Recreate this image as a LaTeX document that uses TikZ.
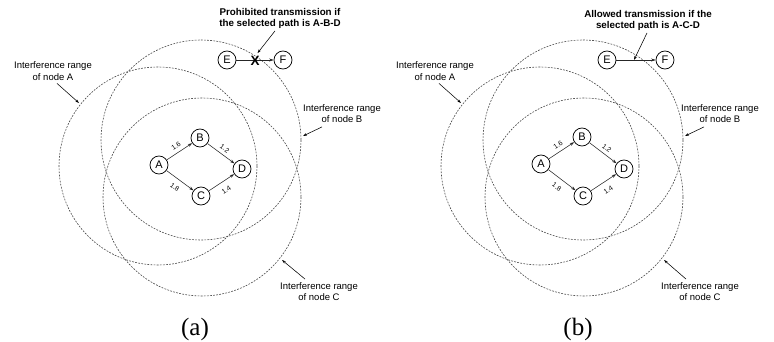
\documentclass[tikz,border=0pt]{standalone}
\usepackage{fontspec}
\setmainfont{Liberation Serif}
\setsansfont{Liberation Sans}
\usetikzlibrary{arrows.meta}
\begin{document}
\begin{tikzpicture}[x=1pt,y=-1pt,
  rangecirc/.style={draw=black!72, dash pattern=on 1.8pt off 1.3pt, line width=0.6pt},
  netnode/.style={circle, draw, line width=0.75pt, minimum size=18pt, inner sep=0pt, fill=white, font=\sffamily\fontsize{11}{12}\selectfont},
  link/.style={-{Stealth[length=4.5pt,width=3pt]}, line width=0.55pt, draw=black!85},
  wlabel/.style={font=\sffamily\fontsize{6.8}{7}\selectfont, sloped, inner sep=0.5pt},
  rangelabel/.style={font=\sffamily\fontsize{9.5}{11.5}\selectfont, align=center, inner sep=1pt},
  pointer/.style={-{Stealth[length=4pt,width=2.6pt]}, line width=0.55pt},
  titlelabel/.style={font=\sffamily\bfseries\fontsize{9.8}{11.3}\selectfont, align=center, inner sep=1pt},
  caption/.style={font=\rmfamily\fontsize{25}{25}\selectfont, inner sep=0pt}]
\useasboundingbox (0,0) rectangle (774,342);
% ---------------- panel (a)
\draw[rangecirc] (158,166) circle[radius=99];
\draw[rangecirc] (201,140) circle[radius=100];
\draw[rangecirc] (202,197) circle[radius=99];
\node[netnode] (aA) at (159,165) {A};
\node[netnode] (aB) at (200,138) {B};
\node[netnode] (aC) at (201,196) {C};
\node[netnode] (aD) at (242,169) {D};
\draw[link] (aA) -- node[wlabel, above=3pt] {1.6} (aB);
\draw[link] (aB) -- node[wlabel, above=3pt] {1.2} (aD);
\draw[link] (aA) -- node[wlabel, below=5.5pt] {1.8} (aC);
\draw[link] (aC) -- node[wlabel, below=5.5pt] {1.4} (aD);
\node[netnode] (aE) at (227,60) {E};
\node[netnode] (aF) at (283,60) {F};
\draw[link] (aE) -- (aF);
\node[font=\sffamily\bfseries\fontsize{13.5}{14}\selectfont, inner sep=0pt] (aX) at (255,61) {X};
\node[titlelabel] (aT) at (280,18.5) {Prohibited transmission if\\the selected path is A-B-D};
\draw[pointer] ([xshift=-5pt,yshift=-1pt]aT.south) -- ([xshift=2.5pt,yshift=3pt]aX.north);
\node[rangelabel] (aLA) at (53,71) {Interference range\\of node A};
\coordinate (aPA) at (79,103);
\draw[pointer] ([xshift=4pt,yshift=-2pt]aLA.south) -- (aPA);
\node[rangelabel] (aLB) at (342,113.5) {Interference range\\of node B};
\coordinate (aPB) at (303,136);
\draw[pointer] ([xshift=-20pt,yshift=-3pt]aLB.south) -- (aPB);
\node[rangelabel] (aLC) at (319,291.5) {Interference range\\of node C};
\coordinate (aPC) at (282,260);
\draw[pointer] ([xshift=-14pt,yshift=2pt]aLC.north) -- (aPC);
\node[caption] (acap) at (195,329) {(a)};
% ---------------- panel (b)
\begin{scope}[shift={(382,0)}]
\draw[rangecirc] (158,166) circle[radius=99];
\draw[rangecirc] (201,140) circle[radius=100];
\draw[rangecirc] (202,197) circle[radius=99];
\node[netnode] (bA) at (159,164) {A};
\node[netnode] (bB) at (200,137) {B};
\node[netnode] (bC) at (201,196) {C};
\node[netnode] (bD) at (242,169) {D};
\draw[link] (bA) -- node[wlabel, above=3pt] {1.6} (bB);
\draw[link] (bB) -- node[wlabel, above=3pt] {1.2} (bD);
\draw[link] (bA) -- node[wlabel, below=5.5pt] {1.8} (bC);
\draw[link] (bC) -- node[wlabel, below=5.5pt] {1.4} (bD);
\node[netnode] (bE) at (225,60) {E};
\node[netnode] (bF) at (283,60) {F};
\draw[link] (bE) -- (bF);
\coordinate (bP) at (252,60);
\node[titlelabel] (bT) at (266,20.5) {Allowed transmission if the\\selected path is A-C-D};
\draw[pointer] ([xshift=-1pt,yshift=-1pt]bT.south) -- (bP);
\node[rangelabel] (bLA) at (53,71) {Interference range\\of node A};
\coordinate (bPA) at (79,103);
\draw[pointer] ([xshift=4pt,yshift=-2pt]bLA.south) -- (bPA);
\node[rangelabel] (bLB) at (338,113.5) {Interference range\\of node B};
\coordinate (bPB) at (303,136);
\draw[pointer] ([xshift=-16pt,yshift=-3pt]bLB.south) -- (bPB);
\node[rangelabel] (bLC) at (318,291.5) {Interference range\\of node C};
\coordinate (bPC) at (282,260);
\draw[pointer] ([xshift=-14pt,yshift=2pt]bLC.north) -- (bPC);
\node[caption] (bcap) at (196,329) {(b)};
\end{scope}
\end{tikzpicture}
\end{document}
